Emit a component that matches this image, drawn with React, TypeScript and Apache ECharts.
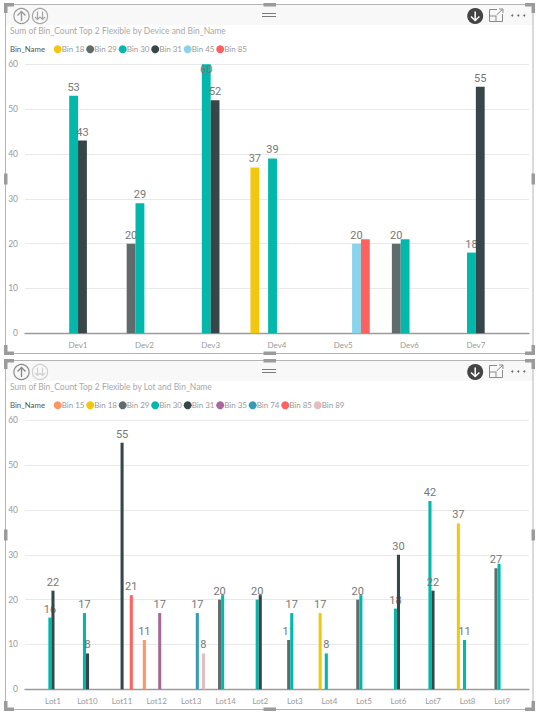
import React, { useEffect, useRef } from "react";
import * as echarts from "echarts";

const devices = ["Dev1", "Dev2", "Dev3", "Dev4", "Dev5", "Dev6", "Dev7"];
const lots = ["Lot1", "Lot10", "Lot11", "Lot12", "Lot13", "Lot14", "Lot2", "Lot3", "Lot4", "Lot5", "Lot6", "Lot7", "Lot8", "Lot9"];
const yMax = 60;

const binColors: Record<string, string> = {
  "Bin 15": "#FE9666", "Bin 18": "#F2C80F", "Bin 29": "#5F6B6D", "Bin 30": "#01B8AA", "Bin 31": "#374649",
  "Bin 35": "#A66999", "Bin 45": "#8AD4EB", "Bin 74": "#3599B8", "Bin 85": "#FD625E", "Bin 89": "#DFBFBF",
};

const n = null;
const deviceBin18 = [n, n, n, 37, n, n, n];
const deviceBin29 = [n, 20, n, n, n, 20, n];
const deviceBin30 = [53, 29, 60, 39, n, 21, 18];
const deviceBin31 = [43, n, 52, n, n, n, 55];
const deviceBin45 = [n, n, n, n, 20, n, n];
const deviceBin85 = [n, n, n, n, 21, n, n];

const lotBin15 = [n, n, n, 11, n, n, n, n, n, n, n, n, n, n];
const lotBin18 = [n, n, n, n, n, n, n, n, 17, n, n, n, 37, n];
const lotBin29 = [n, n, n, n, n, 20, n, 11, n, 20, n, n, n, 27];
const lotBin30 = [16, 17, n, n, n, 21, 20, 17, 8, 21, 18, 42, 11, 28];
const lotBin31 = [22, 8, 55, n, n, n, 21, n, n, n, 30, 22, n, n];
const lotBin35 = [n, n, n, 17, n, n, n, n, n, n, n, n, n, n];
const lotBin74 = [n, n, n, n, 17, n, n, n, n, n, n, n, n, n];
const lotBin85 = [n, n, 21, n, n, n, n, n, n, n, n, n, n, n];
const lotBin89 = [n, n, n, n, 8, n, n, n, n, n, n, n, n, n];

const deviceSeries: [string, (number | null)[]][] = [
  ["Bin 18", deviceBin18], ["Bin 29", deviceBin29], ["Bin 30", deviceBin30],
  ["Bin 31", deviceBin31], ["Bin 45", deviceBin45], ["Bin 85", deviceBin85],
];
const lotSeries: [string, (number | null)[]][] = [
  ["Bin 15", lotBin15], ["Bin 18", lotBin18], ["Bin 29", lotBin29], ["Bin 30", lotBin30], ["Bin 31", lotBin31],
  ["Bin 35", lotBin35], ["Bin 74", lotBin74], ["Bin 85", lotBin85], ["Bin 89", lotBin89],
];

// labels Power BI dropped because they collided with a neighbour: bin -> category indexes
const deviceHiddenLabels: Record<string, number[]> = { "Bin 85": [4], "Bin 30": [5] };
const lotHiddenLabels: Record<string, number[]> = { "Bin 30": [5, 9, 13], "Bin 31": [6] };

const FONT = "Lato";
const NUM_FONT = "Roboto";
const GREY = "#9a9a9a";

function makeSeries(list: [string, (number | null)[]][], hidden: Record<string, number[]>, axis: number) {
  return list.map(([name, values], i) => ({
    name,
    type: "bar",
    xAxisIndex: axis,
    yAxisIndex: axis,
    barGap: 0,
    barCategoryGap: "20%",
    z: 3 + i,
    itemStyle: { color: binColors[name] },
    data: values.map((v, idx) =>
      v === null
        ? null
        : {
            value: v,
            label: {
              show: !(hidden[name] || []).includes(idx),
              position: v >= yMax ? "insideTop" : "top",
              distance: v >= yMax ? 0 : 3,
              color: "#777777",
              fontFamily: NUM_FONT,
              fontSize: 11,
            },
          }
    ),
  }));
}

function handleRect(x: number, y: number, width: number, height: number) {
  return { type: "rect", silent: true, shape: { x, y, width, height }, style: { fill: "#9b9b9b" } };
}

function line(x1: number, y1: number, x2: number, y2: number, stroke: string, lineWidth = 1) {
  return { type: "line", silent: true, shape: { x1, y1, x2, y2 }, style: { stroke, lineWidth } };
}

function poly(points: number[][], stroke: string, lineWidth = 1.4) {
  return { type: "polyline", silent: true, shape: { points }, style: { stroke, lineWidth, fill: "none" } };
}

function panelChrome(top: number, bottom: number, upColor: string, downColor: string) {
  const L = 5.5, R = 533, mid = (top + bottom) / 2, cy = top + 11.5;
  const els: any[] = [
    { type: "rect", silent: true, shape: { x: L, y: top, width: R - L, height: 20.5 }, style: { fill: "#f8f8f8" } },
    { type: "rect", silent: true, shape: { x: L, y: top, width: R - L, height: bottom - top }, style: { fill: "none", stroke: "#b4b4b4", lineWidth: 1 } },
    // corners
    handleRect(4, top - 1.5, 10, 3.5), handleRect(4, top - 1.5, 3.5, 10),
    handleRect(525, top - 1.5, 10, 3.5), handleRect(531.5, top - 1.5, 3.5, 10),
    handleRect(4, bottom - 8.5, 3.5, 10), handleRect(4, bottom - 2, 10, 3.5),
    handleRect(531.5, bottom - 8.5, 3.5, 10), handleRect(525, bottom - 2, 10, 3.5),
    // mid handles
    handleRect(4, mid - 5.5, 3.5, 11), handleRect(531.5, mid - 5.5, 3.5, 11),
    handleRect(263.5, top - 1.5, 12.5, 3.5), handleRect(263.5, bottom - 2, 12.5, 3.5),
    // drag grip
    line(262, cy - 2.5, 276, cy - 2.5, "#7a7a7a"), line(262, cy + 0.5, 276, cy + 0.5, "#7a7a7a"),
    // drill up
    { type: "circle", silent: true, shape: { cx: 21.5, cy, r: 7.6 }, style: { fill: "none", stroke: upColor, lineWidth: 1.2 } },
    poly([[17.5, cy - 0.5], [21.5, cy - 4.5], [25.5, cy - 0.5]], upColor),
    line(21.5, cy - 4.5, 21.5, cy + 5, upColor, 1.4),
    // drill down level
    { type: "circle", silent: true, shape: { cx: 40, cy, r: 7.6 }, style: { fill: "none", stroke: downColor, lineWidth: 1.2 } },
    line(37.5, cy - 4.5, 37.5, cy + 3.5, downColor, 1.2), line(42.5, cy - 4.5, 42.5, cy + 3.5, downColor, 1.2),
    poly([[35, cy + 1], [37.5, cy + 3.5], [40, cy + 1], [42.5, cy + 3.5], [45, cy + 1]], downColor, 1.2),
    // drill mode (dark)
    { type: "circle", silent: true, shape: { cx: 475.2, cy, r: 8 }, style: { fill: "#444444" } },
    poly([[471, cy + 0.5], [475.2, cy + 4.5], [479.4, cy + 0.5]], "#ffffff", 1.5),
    line(475.2, cy - 4.5, 475.2, cy + 4.5, "#ffffff", 1.5),
    // focus
    poly([[497, cy - 6.5], [489.5, cy - 6.5], [489.5, cy + 5.5], [502.5, cy + 5.5], [502.5, cy - 2]], "#8a8a8a", 1),
    poly([[489.5, cy], [496, cy], [496, cy + 5.5]], "#8a8a8a", 1),
    line(496.5, cy - 1, 503, cy - 7, "#8a8a8a", 1),
    poly([[499, cy - 7], [503, cy - 7], [503, cy - 3]], "#8a8a8a", 1),
    // more
    { type: "circle", silent: true, shape: { cx: 512.3, cy: cy - 0.5, r: 1 }, style: { fill: "#666666" } },
    { type: "circle", silent: true, shape: { cx: 518.3, cy: cy - 0.5, r: 1 }, style: { fill: "#666666" } },
    { type: "circle", silent: true, shape: { cx: 524.3, cy: cy - 0.5, r: 1 }, style: { fill: "#666666" } },
  ];
  return els;
}

function caption(text: string, y: number, color: string, size: number) {
  return {
    type: "text", silent: true, x: 10, y,
    style: { text, fill: color, font: `${size}px ${FONT}`, verticalAlign: "middle" },
  };
}

const PLOT_LEFT = 25, PLOT_RIGHT_GAP = 16, PLOT_HEIGHT = 269;

function backgroundAxes(top: number) {
  return {
    grid: { left: PLOT_LEFT, right: PLOT_RIGHT_GAP, top, height: PLOT_HEIGHT },
    xAxis: {
      type: "category", data: [""], axisTick: { show: false }, axisLabel: { show: false },
      axisLine: { lineStyle: { color: "#9c9c9c", width: 1.4 } },
    },
    yAxis: {
      type: "value", min: 0, max: yMax, interval: 10,
      axisLabel: { margin: 7, color: GREY, fontFamily: FONT, fontSize: 8.5 },
      axisLine: { show: false }, axisTick: { show: false },
      splitLine: { lineStyle: { color: "#e9e9e9", width: 1 } },
    },
  };
}

function barAxes(top: number, left: number, width: number, cats: string[]) {
  return {
    grid: { left, width, top, height: PLOT_HEIGHT },
    xAxis: {
      type: "category", data: cats, axisTick: { show: false }, axisLine: { show: false },
      axisLabel: { margin: 8, color: GREY, fontFamily: FONT, fontSize: 8, interval: 0 },
    },
    yAxis: {
      type: "value", min: 0, max: yMax, interval: 10, show: false,
      splitLine: { show: false },
    },
  };
}

function legend(names: string[], top: number) {
  return {
    left: 53.7, top, itemWidth: 8, itemHeight: 8, icon: "circle", itemGap: 1.7, padding: 0, selectedMode: false,
    data: names,
    textStyle: { color: GREY, fontFamily: FONT, fontSize: 8, padding: [0, 0, 0, -5] },
  };
}

export default function App() {
  const ref = useRef<HTMLDivElement>(null);
  useEffect(() => {
    const chart = echarts.init(ref.current!, undefined, { renderer: "svg" });
    const bg1 = backgroundAxes(64.3), bg2 = backgroundAxes(420.3);
    const fg1 = barAxes(64.3, 44.9, 464.1, devices), fg2 = barAxes(420.3, 35.7, 483.7, lots);
    chart.setOption({
      animation: false,
      backgroundColor: "#ffffff",
      grid: [bg1.grid, fg1.grid, bg2.grid, fg2.grid],
      xAxis: [bg1, fg1, bg2, fg2].map((g, i) => ({ ...g.xAxis, gridIndex: i })),
      yAxis: [bg1, fg1, bg2, fg2].map((g, i) => ({ ...g.yAxis, gridIndex: i })),
      legend: [
        legend(deviceSeries.map((s) => s[0]), 45.3),
        legend(lotSeries.map((s) => s[0]), 401.3),
      ],
      graphic: [
        ...panelChrome(4.5, 353.5, "#9a9a9a", "#a5a5a5"),
        ...panelChrome(360.5, 709.5, "#8a8a8a", "#cfcfcf"),
        caption("Sum of Bin_Count Top 2 Flexible by Device and Bin_Name", 31, "#a9a9a9", 8.5),
        caption("Bin_Name", 49.3, "#555555", 7.8),
        caption("Sum of Bin_Count Top 2 Flexible by Lot and Bin_Name", 387, "#a9a9a9", 8.5),
        caption("Bin_Name", 405.3, "#555555", 7.8),
      ],
      series: [...makeSeries(deviceSeries, deviceHiddenLabels, 1), ...makeSeries(lotSeries, lotHiddenLabels, 3)],
    });
    return () => chart.dispose();
  }, []);
  return <div ref={ref} style={{ position: "fixed", left: 0, top: 0, width: 545, height: 723 }} />;
}
